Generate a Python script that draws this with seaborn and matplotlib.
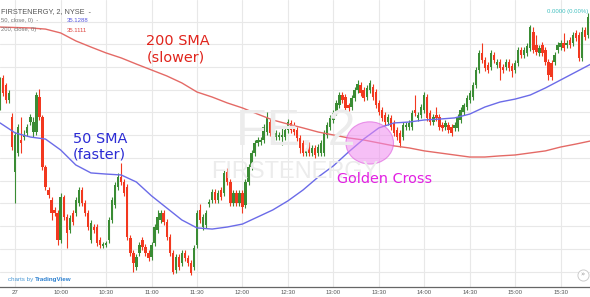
import numpy as np
import pandas as pd
import matplotlib
matplotlib.use("Agg")
import matplotlib.pyplot as plt
from matplotlib.patches import Ellipse
import seaborn as sns

# ---------------- data (2-minute bars, minutes relative to the 9:30 open) ----------------
first_bar_minute = -10
bar_step = 2

opens = [
    35.224, 35.352, 35.321, 35.255, 35.180,
    34.938, 35.022, 35.079, 35.092, 35.110, 35.158, 35.114, 35.114, 35.268, 35.180,
    34.960, 34.859, 34.815, 34.771, 34.758, 34.639, 34.828, 34.740, 34.683, 34.758,
    34.758, 34.802, 34.859, 34.802, 34.758, 34.639, 34.696, 34.696, 34.639, 34.613,
    34.617, 34.639, 34.727, 34.793, 34.872, 34.916, 34.894, 34.872, 34.648, 34.582,
    34.520, 34.582, 34.639, 34.608, 34.582, 34.564, 34.626, 34.683, 34.727, 34.758,
    34.718, 34.652, 34.582, 34.507, 34.564, 34.538, 34.582, 34.560, 34.538, 34.520,
    34.617, 34.771, 34.696, 34.705, 34.797, 34.815, 34.850, 34.815, 34.859, 34.846,
    34.938, 34.894, 34.802, 34.846, 34.802, 34.846, 34.793, 34.894, 34.960, 35.022,
    35.066, 35.070, 35.079, 35.114, 35.158, 35.110, 35.092, 35.092, 35.092, 35.092,
    35.123, 35.154, 35.145, 35.123, 35.088, 35.066, 35.022, 35.057, 35.022, 35.044,
    35.022, 35.022, 35.022, 35.101, 35.136, 35.167, 35.202, 35.233, 35.277, 35.268,
    35.233, 35.224, 35.264, 35.299, 35.321, 35.299, 35.268, 35.299, 35.312, 35.290,
    35.242, 35.211, 35.189, 35.158, 35.176, 35.154, 35.123, 35.110, 35.092, 35.136,
    35.136, 35.136, 35.211, 35.176, 35.189, 35.211, 35.268, 35.198, 35.158, 35.189,
    35.180, 35.145, 35.136, 35.145, 35.136, 35.132, 35.132, 35.167, 35.202, 35.224,
    35.255, 35.268, 35.321, 35.387, 35.462, 35.431, 35.409, 35.400, 35.453, 35.409,
    35.422, 35.400, 35.400, 35.422, 35.405, 35.387, 35.418, 35.475, 35.453, 35.462,
    35.484, 35.554, 35.497, 35.462, 35.497, 35.475, 35.422, 35.418, 35.422, 35.475,
    35.488, 35.506, 35.497, 35.519, 35.506, 35.550, 35.541, 35.440, 35.563, 35.541,
]
highs = [
    35.356, 35.365, 35.330, 35.299, 35.198,
    35.114, 35.149, 35.180, 35.123, 35.149, 35.193, 35.180, 35.290, 35.303, 35.189,
    34.969, 34.872, 34.828, 34.784, 34.771, 34.846, 34.837, 34.753, 34.749, 34.771,
    34.828, 34.872, 34.872, 34.815, 34.771, 34.727, 34.709, 34.709, 34.652, 34.630,
    34.635, 34.740, 34.828, 34.894, 34.934, 34.978, 34.907, 34.885, 34.661, 34.595,
    34.577, 34.630, 34.652, 34.621, 34.595, 34.630, 34.709, 34.771, 34.771, 34.771,
    34.731, 34.665, 34.595, 34.577, 34.577, 34.595, 34.595, 34.573, 34.551, 34.617,
    34.771, 34.797, 34.753, 34.771, 34.819, 34.863, 34.863, 34.859, 34.872, 34.947,
    34.956, 34.907, 34.859, 34.859, 34.859, 34.859, 34.907, 34.973, 35.035, 35.079,
    35.092, 35.092, 35.149, 35.202, 35.171, 35.123, 35.123, 35.114, 35.132, 35.136,
    35.171, 35.167, 35.158, 35.136, 35.101, 35.079, 35.044, 35.070, 35.057, 35.057,
    35.061, 35.079, 35.123, 35.158, 35.189, 35.211, 35.255, 35.290, 35.290, 35.281,
    35.242, 35.277, 35.312, 35.343, 35.334, 35.312, 35.321, 35.343, 35.325, 35.303,
    35.255, 35.224, 35.202, 35.193, 35.189, 35.167, 35.136, 35.123, 35.158, 35.158,
    35.167, 35.211, 35.277, 35.202, 35.237, 35.290, 35.281, 35.211, 35.193, 35.224,
    35.193, 35.158, 35.167, 35.158, 35.149, 35.158, 35.193, 35.224, 35.242, 35.277,
    35.299, 35.334, 35.400, 35.475, 35.506, 35.444, 35.422, 35.475, 35.466, 35.435,
    35.435, 35.413, 35.435, 35.435, 35.418, 35.431, 35.488, 35.488, 35.488, 35.506,
    35.585, 35.576, 35.541, 35.497, 35.510, 35.488, 35.435, 35.431, 35.466, 35.510,
    35.519, 35.550, 35.519, 35.532, 35.554, 35.563, 35.554, 35.576, 35.576, 35.638,
]
lows = [
    35.211, 35.273, 35.242, 35.242, 35.035,
    34.802, 35.009, 35.022, 35.079, 35.097, 35.145, 35.092, 35.101, 35.167, 34.947,
    34.859, 34.824, 34.727, 34.745, 34.617, 34.626, 34.727, 34.604, 34.670, 34.705,
    34.745, 34.789, 34.789, 34.745, 34.683, 34.626, 34.670, 34.613, 34.604, 34.604,
    34.608, 34.626, 34.714, 34.780, 34.859, 34.881, 34.833, 34.639, 34.569, 34.498,
    34.507, 34.569, 34.595, 34.569, 34.547, 34.551, 34.613, 34.670, 34.714, 34.705,
    34.639, 34.569, 34.489, 34.494, 34.507, 34.525, 34.547, 34.525, 34.485, 34.507,
    34.604, 34.714, 34.683, 34.692, 34.784, 34.802, 34.802, 34.802, 34.815, 34.833,
    34.881, 34.789, 34.789, 34.789, 34.789, 34.758, 34.780, 34.881, 34.947, 35.009,
    35.053, 35.057, 35.066, 35.101, 35.097, 35.066, 35.079, 35.079, 35.057, 35.079,
    35.110, 35.110, 35.101, 35.075, 35.022, 35.009, 35.009, 35.009, 35.009, 35.000,
    35.009, 35.009, 35.009, 35.088, 35.123, 35.154, 35.189, 35.220, 35.242, 35.207,
    35.207, 35.211, 35.251, 35.286, 35.273, 35.251, 35.255, 35.286, 35.255, 35.220,
    35.189, 35.163, 35.145, 35.145, 35.123, 35.097, 35.079, 35.048, 35.079, 35.123,
    35.123, 35.123, 35.185, 35.163, 35.176, 35.198, 35.163, 35.145, 35.145, 35.163,
    35.123, 35.119, 35.123, 35.110, 35.097, 35.119, 35.119, 35.154, 35.189, 35.211,
    35.242, 35.255, 35.308, 35.374, 35.418, 35.383, 35.374, 35.387, 35.418, 35.396,
    35.343, 35.374, 35.387, 35.383, 35.356, 35.374, 35.405, 35.440, 35.440, 35.449,
    35.471, 35.462, 35.453, 35.449, 35.449, 35.409, 35.343, 35.343, 35.409, 35.462,
    35.475, 35.471, 35.484, 35.484, 35.493, 35.515, 35.427, 35.427, 35.519, 35.528,
]
closes = [
    35.343, 35.286, 35.255, 35.286, 35.048,
    35.101, 35.136, 35.066, 35.101, 35.136, 35.180, 35.158, 35.277, 35.180, 34.960,
    34.872, 34.837, 34.758, 34.758, 34.639, 34.828, 34.740, 34.670, 34.736, 34.718,
    34.815, 34.859, 34.802, 34.758, 34.696, 34.714, 34.683, 34.626, 34.617, 34.621,
    34.626, 34.727, 34.815, 34.881, 34.916, 34.894, 34.846, 34.652, 34.582, 34.538,
    34.564, 34.617, 34.608, 34.582, 34.560, 34.617, 34.696, 34.740, 34.758, 34.718,
    34.652, 34.582, 34.498, 34.564, 34.520, 34.582, 34.560, 34.538, 34.494, 34.604,
    34.758, 34.727, 34.740, 34.758, 34.806, 34.850, 34.815, 34.846, 34.828, 34.934,
    34.894, 34.802, 34.846, 34.802, 34.846, 34.784, 34.894, 34.960, 35.022, 35.066,
    35.079, 35.079, 35.136, 35.176, 35.110, 35.079, 35.110, 35.101, 35.101, 35.123,
    35.158, 35.123, 35.114, 35.088, 35.044, 35.022, 35.031, 35.022, 35.044, 35.013,
    35.048, 35.066, 35.110, 35.145, 35.176, 35.198, 35.242, 35.277, 35.255, 35.220,
    35.220, 35.264, 35.299, 35.325, 35.286, 35.264, 35.308, 35.330, 35.268, 35.233,
    35.202, 35.176, 35.158, 35.180, 35.136, 35.110, 35.092, 35.066, 35.145, 35.145,
    35.154, 35.198, 35.198, 35.189, 35.224, 35.277, 35.176, 35.158, 35.180, 35.176,
    35.136, 35.132, 35.154, 35.123, 35.110, 35.145, 35.180, 35.211, 35.233, 35.264,
    35.286, 35.321, 35.387, 35.462, 35.431, 35.396, 35.387, 35.462, 35.431, 35.422,
    35.396, 35.387, 35.422, 35.396, 35.383, 35.418, 35.475, 35.453, 35.475, 35.493,
    35.576, 35.475, 35.466, 35.484, 35.462, 35.422, 35.365, 35.356, 35.453, 35.497,
    35.506, 35.484, 35.506, 35.497, 35.541, 35.528, 35.440, 35.554, 35.532, 35.620,
]

sma_minutes = [-10, 0, 10, 20, 30, 40, 50, 60, 70, 80, 90, 100, 110, 120, 130, 140,
               150, 160, 170, 180, 190, 200, 210, 220, 230, 240, 250, 260, 270, 280,
               290, 300, 310, 320, 330, 340, 350, 360, 370, 380]
sma50 = [35.154, 35.110, 35.092, 35.083, 35.035, 34.969, 34.934, 34.929, 34.925, 34.894,
         34.833, 34.780, 34.727, 34.692, 34.687, 34.696, 34.709, 34.740, 34.771, 34.811,
         34.859, 34.916, 34.965, 35.026, 35.083, 35.132, 35.154, 35.158, 35.167, 35.171,
         35.176, 35.193, 35.224, 35.246, 35.259, 35.277, 35.308, 35.343, 35.378, 35.413]
sma200 = [35.576, 35.574, 35.572, 35.567, 35.550, 35.515, 35.488, 35.462, 35.440, 35.413,
          35.387, 35.361, 35.330, 35.290, 35.268, 35.242, 35.220, 35.193, 35.167, 35.149,
          35.132, 35.114, 35.101, 35.088, 35.079, 35.066, 35.053, 35.044, 35.031, 35.022,
          35.013, 35.004, 35.004, 35.009, 35.013, 35.022, 35.031, 35.048, 35.061, 35.075]

tick_minutes = [0, 30, 60, 90, 120, 150, 180, 210, 240, 270, 300, 330, 360]
tick_labels = ["27", "10:00", "10:30", "11:00", "11:30", "12:00", "12:30",
               "13:00", "13:30", "14:00", "14:30", "15:00", "15:30"]
price_levels = [34.5, 34.6, 34.7, 34.8, 34.9, 35.0, 35.1, 35.2, 35.3, 35.4, 35.5, 35.6]

cross_minute, cross_price = 234.0, 35.066

# ---------------- figure ----------------
W, H, DPI = 590, 297, 100
sns.set_style("white")
plt.rcParams["font.family"] = ["DejaVu Sans"]
fig = plt.figure(figsize=(W / DPI, H / DPI), dpi=DPI)
ax = fig.add_axes([0, 10 / H, 1, 287 / H])

UP, DOWN = "#3a8c34", "#f2381f"
minutes = np.arange(first_bar_minute, first_bar_minute + bar_step * len(opens), bar_step)
df = pd.DataFrame({"t": minutes, "o": opens, "h": highs, "l": lows, "c": closes})
rising = df["c"] >= df["o"]
cols = np.where(rising, UP, DOWN)
ax.vlines(df["t"], df["l"], df["h"], colors=cols, linewidth=0.8, zorder=3)
body = (df["c"] - df["o"]).abs().clip(lower=0.003)
ax.bar(df["t"], body, bottom=np.minimum(df["o"], df["c"]), width=1.55,
       color=cols, linewidth=0, zorder=4)

sma_df = pd.DataFrame({"t": sma_minutes, "sma50": sma50, "sma200": sma200})
sns.lineplot(data=sma_df, x="t", y="sma200", color="#e46a66", linewidth=1.0, ax=ax, zorder=5)
sns.lineplot(data=sma_df, x="t", y="sma50", color="#6b6be8", linewidth=1.0, ax=ax, zorder=5)

ax.add_patch(Ellipse((cross_minute, cross_price), 31.4, 0.186, facecolor="#f08cf0",
                     alpha=0.55, edgecolor="#d94fd9", linewidth=0.8, zorder=6))

ax.set_xlim(-10.03, 379.4)
ax.set_ylim(34.432, 35.695)
ax.set_xticks(tick_minutes)
ax.set_xticklabels(tick_labels, fontsize=4.3, color="#555555", family=["Liberation Sans"])
ax.set_yticks(price_levels)
ax.tick_params(axis="y", length=0, labelleft=False)
ax.tick_params(axis="x", length=0, pad=2.2)
ax.grid(True, color="#e8e8e8", linewidth=0.8)
ax.set_axisbelow(True)
for s in ["top", "left", "right"]:
    ax.spines[s].set_visible(False)
ax.spines["bottom"].set_color("#666666")
ax.spines["bottom"].set_linewidth(0.9)
ax.set_xlabel("")
ax.set_ylabel("")

def px(x, y):
    return x / W, 1 - y / H

# watermark
fig.text(*px(236, 146), "FE, 2", fontsize=36, color="#ececec", zorder=0,
         family=["Liberation Sans"], ha="left", va="baseline")
fig.text(*px(211, 178), "FIRSTENERGY", fontsize=17, color="#ececec", zorder=0,
         family=["Liberation Sans"], ha="left", va="baseline")

# annotations
fig.text(*px(146.5, 45), "200 SMA", fontsize=10.4, color="#e0241c", va="baseline")
fig.text(*px(146.5, 61.5), "(slower)", fontsize=10.4, color="#e0241c", va="baseline")
fig.text(*px(73, 143.3), "50 SMA", fontsize=10.4, color="#2b2bd4", va="baseline")
fig.text(*px(72.5, 158), "(faster)", fontsize=10.4, color="#2b2bd4", va="baseline")
fig.text(*px(336.7, 183.3), "Golden Cross", fontsize=10.4, color="#e21fe2", va="baseline")

# legend header
ui = ["Liberation Sans"]
fig.text(*px(1, 13.5), "FIRSTENERGY, 2, NYSE  -", fontsize=5.3, color="#555555",
         family=ui, va="baseline")
fig.text(*px(1, 22), "50, close, 0)  -", fontsize=4.2, color="#777777", family=ui, va="baseline")
fig.text(*px(1, 31.5), "200, close, 0)  -", fontsize=4.2, color="#777777", family=ui, va="baseline")
fig.text(*px(67, 22), "35.1288", fontsize=4.3, color="#5b5be0", family=ui, va="baseline")
fig.text(*px(67, 31.5), "35.1111", fontsize=4.3, color="#e04a44", family=ui, va="baseline")
fig.text(*px(588, 13), "0.0000 (0.00%)", fontsize=4.3, color="#3fbfbf", family=ui,
         va="baseline", ha="right")

# footer
fig.text(*px(8, 280.5), "charts by", fontsize=4.5, color="#4d9ad6", family=ui, va="baseline")
fig.text(*px(35, 280.5), "TradingView", fontsize=4.5, color="#2a7fcf", family=ui,
         va="baseline", weight="bold")
ax.plot([582.5 / W], [1 - 274.5 / H], marker="o", markersize=8, markerfacecolor="white",
        markeredgecolor="#cccccc", markeredgewidth=0.7, transform=fig.transFigure, clip_on=False)
fig.text(*px(582.5, 274.5), "»", fontsize=5, color="#999999", ha="center", va="center")

fig.savefig("out.png", dpi=DPI)
